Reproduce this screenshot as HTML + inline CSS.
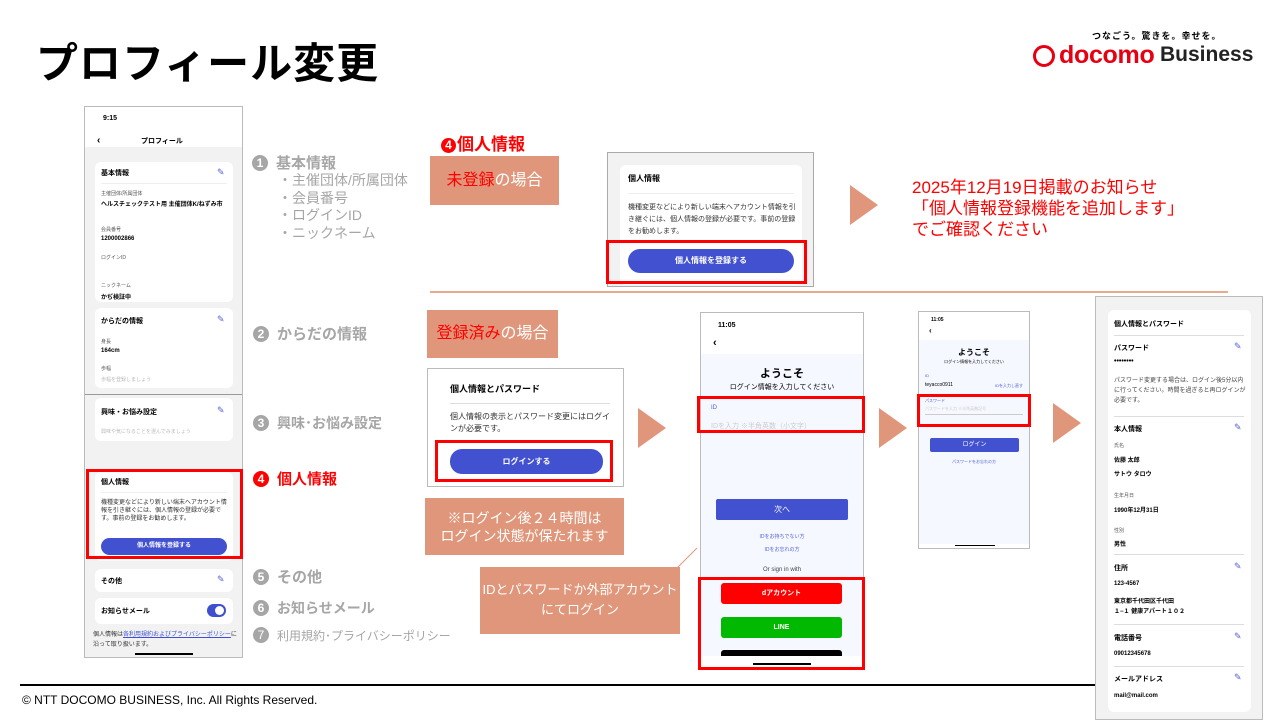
<!DOCTYPE html>
<html><head><meta charset="utf-8"><style>
*{margin:0;padding:0;box-sizing:border-box}
body{width:1280px;height:720px;position:relative;overflow:hidden;background:#fff;font-family:"Liberation Sans","Noto Sans CJK JP",sans-serif;color:#000}
.a{position:absolute}
.or{background:#e0967a;color:#fff;text-align:center}
.red{border:3px solid #f00}
.gl{color:#a6a6a6;font-weight:bold;font-size:15px;white-space:nowrap}
.num{display:inline-block;width:16px;height:16px;border-radius:50%;background:#a6a6a6;color:#fff;font-size:12px;text-align:center;line-height:16px;margin-right:8px;vertical-align:1px}
.card{background:#fff;border-radius:6px}
.t{font-size:7px;font-weight:bold}
.s{font-size:5px;color:#555}
.pen{color:#5560d8;font-size:9px}
.tri{width:0;height:0;border-top:20px solid transparent;border-bottom:20px solid transparent;border-left:28px solid #e0967a}
.btn{background:#4251cf;color:#fff;border-radius:12px;text-align:center;font-weight:bold}
</style></head><body>

<div class="a" style="left:36px;top:30px;font-size:42px;font-weight:bold;letter-spacing:1px">プロフィール変更</div>
<div class="a" style="left:1092px;top:29px;font-size:9px;font-weight:bold;letter-spacing:1px">つなごう。驚きを。幸せを。</div>
<div class="a" style="left:1033px;top:45px;width:22px;height:22px;border:3px solid #e60012;border-radius:50%"></div>
<div class="a" style="left:1059px;top:41px;font-size:25px;font-weight:bold;color:#e60012;letter-spacing:-0.3px">docomo</div>
<div class="a" style="left:1160px;top:43px;font-size:21px;font-weight:bold;color:#222">Business</div>

<div class="a" style="left:20px;top:684px;width:1076px;height:2px;background:#000"></div>
<div class="a" style="left:22px;top:693px;font-size:12px">© NTT DOCOMO BUSINESS, Inc. All Rights Reserved.</div>

<!-- left phone -->
<div class="a" style="left:84px;top:106px;width:159px;height:552px;border:1px solid #bbb;background:#f2f2f2">
 <div class="a" style="left:0;top:0;width:157px;height:40px;background:#fff"></div>
 <div class="a t" style="left:18px;top:8px;font-size:7px">9:15</div>
 <div class="a t" style="left:12px;top:28px;font-size:10px">‹</div>
 <div class="a t" style="left:56px;top:29px">プロフィール</div>
 <div class="a card" style="left:10px;top:55px;width:138px;height:140px">
  <div class="a t" style="left:6px;top:6px">基本情報</div><div class="a pen" style="left:122px;top:5px">✎</div>
  <div class="a" style="left:6px;top:21px;width:126px;height:1px;background:#eee"></div>
  <div class="a s" style="left:6px;top:28px">主催団体/所属団体</div>
  <div class="a t" style="left:6px;top:37px;font-size:6px;width:128px">ヘルスチェックテスト用 主催団体K/ねずみ市</div>
  <div class="a s" style="left:6px;top:64px">会員番号</div>
  <div class="a t" style="left:6px;top:74px;font-size:6px">1200002866</div>
  <div class="a s" style="left:6px;top:92px">ログインID</div>
  <div class="a s" style="left:6px;top:120px">ニックネーム</div>
  <div class="a t" style="left:6px;top:130px;font-size:6px">かぢ検証中</div>
 </div>
 <div class="a card" style="left:10px;top:201px;width:138px;height:80px">
  <div class="a t" style="left:6px;top:8px">からだの情報</div><div class="a pen" style="left:122px;top:6px">✎</div>
  <div class="a s" style="left:6px;top:30px">身長</div>
  <div class="a t" style="left:6px;top:40px;font-size:6px">164cm</div>
  <div class="a s" style="left:6px;top:57px">歩幅</div>
  <div class="a s" style="left:6px;top:68px;color:#bbb">歩幅を登録しましょう</div>
 </div>
 <div class="a" style="left:0;top:287px;width:157px;height:1px;background:#999"></div>
 <div class="a card" style="left:10px;top:291px;width:138px;height:43px">
  <div class="a t" style="left:6px;top:9px">興味・お悩み設定</div><div class="a pen" style="left:122px;top:7px">✎</div>
  <div class="a s" style="left:6px;top:30px;color:#bbb">興味や気になることを選んでみましょう</div>
 </div>
 <div class="a card" style="left:10px;top:365px;width:138px;height:89px">
  <div class="a t" style="left:6px;top:5px">個人情報</div>
  <div class="a" style="left:6px;top:20px;width:126px;height:1px;background:#eee"></div>
  <div class="a s" style="left:6px;top:27px;width:130px;color:#333;line-height:8px;font-size:6px">機種変更などにより新しい端末へアカウント情報を引き継ぐには、個人情報の登録が必要です。事前の登録をお勧めします。</div>
  <div class="a btn" style="left:6px;top:66px;width:126px;height:17px;font-size:6px;line-height:17px">個人情報を登録する</div>
 </div>
 <div class="a card" style="left:10px;top:462px;width:138px;height:23px">
  <div class="a t" style="left:6px;top:7px">その他</div><div class="a pen" style="left:122px;top:5px">✎</div>
 </div>
 <div class="a card" style="left:10px;top:491px;width:138px;height:26px">
  <div class="a t" style="left:6px;top:8px">お知らせメール</div>
  <div class="a" style="left:112px;top:6px;width:19px;height:13px;border-radius:7px;background:#3e50cf"></div>
  <div class="a" style="left:120px;top:8px;width:9px;height:9px;border-radius:50%;background:#fff"></div>
 </div>
 <div class="a s" style="left:8px;top:523px;width:146px;color:#333;font-size:6px;line-height:10px">個人情報は<span style="color:#3e50cf;text-decoration:underline">各利用規約およびプライバシーポリシー</span>に沿って取り扱います。</div>
 <div class="a" style="left:50px;top:546px;width:58px;height:2px;background:#000"></div>
</div>
<div class="a red" style="left:86px;top:469px;width:157px;height:90px"></div>

<!-- left labels -->
<div class="a gl" style="left:252px;top:152px"><span class="num">1</span>基本情報</div>
<div class="a" style="left:278px;top:172px;font-size:14px;color:#a6a6a6;line-height:17.5px">・主催団体/所属団体<br>・会員番号<br>・ログインID<br>・ニックネーム</div>
<div class="a gl" style="left:253px;top:323px"><span class="num">2</span>からだの情報</div>
<div class="a gl" style="left:253px;top:413px;font-size:14px"><span class="num">3</span>興味･お悩み設定</div>
<div class="a gl" style="left:253px;top:468px;color:#f00"><span class="num" style="background:#f00">4</span>個人情報</div>
<div class="a gl" style="left:253px;top:566px"><span class="num">5</span>その他</div>
<div class="a gl" style="left:253px;top:598px;font-size:14px"><span class="num">6</span>お知らせメール</div>
<div class="a gl" style="left:253px;top:627px;font-size:12px;font-weight:normal"><span class="num">7</span>利用規約･プライバシーポリシー</div>

<!-- top middle -->
<div class="a" style="left:441px;top:130px;font-size:17px;font-weight:bold;color:#f00"><span class="num" style="background:#f00;margin-right:1px;width:15px;height:15px;line-height:15px">4</span>個人情報</div>
<div class="a or" style="left:430px;top:156px;width:129px;height:49px;line-height:49px;font-size:16px"><span style="color:#f00">未登録</span>の場合</div>
<div class="a" style="left:607px;top:152px;width:207px;height:135px;border:1px solid #aaa;background:#f2f2f2">
 <div class="a card" style="left:12px;top:12px;width:182px;height:120px">
  <div class="a t" style="left:8px;top:8px;font-size:8px">個人情報</div>
  <div class="a" style="left:8px;top:28px;width:166px;height:1px;background:#eee"></div>
  <div class="a" style="left:8px;top:37px;width:170px;font-size:7px;line-height:12px;color:#333">機種変更などにより新しい端末へアカウント情報を引き継ぐには、個人情報の登録が必要です。事前の登録をお勧めします。</div>
  <div class="a btn" style="left:8px;top:84px;width:166px;height:24px;line-height:24px;font-size:8px">個人情報を登録する</div>
 </div>
</div>
<div class="a red" style="left:606px;top:240px;width:201px;height:44px"></div>
<div class="a tri" style="left:850px;top:185px"></div>
<div class="a" style="left:912px;top:177px;font-size:17px;color:#f00;line-height:21px">2025年12月19日掲載のお知らせ<br>「個人情報登録機能を追加します」<br>でご確認ください</div>
<div class="a" style="left:430px;top:291px;width:798px;height:2px;background:#e8a98c"></div>

<!-- bottom middle -->
<div class="a or" style="left:427px;top:310px;width:131px;height:48px;line-height:48px;font-size:16px"><span style="color:#f00">登録済み</span>の場合</div>
<div class="a" style="left:427px;top:368px;width:197px;height:119px;border:1px solid #bbb;background:#fff">
 <div class="a t" style="left:22px;top:13px;font-size:9px">個人情報とパスワード</div>
 <div class="a" style="left:22px;top:34px;width:160px;height:1px;background:#ddd"></div>
 <div class="a" style="left:22px;top:42px;width:160px;font-size:8px;line-height:12px;color:#333">個人情報の表示とパスワード変更にはログインが必要です。</div>
 <div class="a btn" style="left:22px;top:80px;width:153px;height:25px;line-height:25px;font-size:8px">ログインする</div>
</div>
<div class="a red" style="left:435px;top:440px;width:178px;height:42px"></div>
<div class="a or" style="left:425px;top:498px;width:199px;height:57px;font-size:14px;line-height:18px;padding-top:11px">※ログイン後２４時間は<br>ログイン状態が保たれます</div>
<div class="a or" style="left:480px;top:567px;width:200px;height:67px;font-size:13px;line-height:20px;padding-top:13px;white-space:nowrap">IDとパスワードか外部アカウント<br>にてログイン</div>
<svg class="a" style="left:675px;top:545px" width="25" height="25"><line x1="2" y1="23" x2="22" y2="3" stroke="#e0967a" stroke-width="1"/></svg>
<div class="a tri" style="left:638px;top:408px"></div>

<!-- phone 2 -->
<div class="a" style="left:700px;top:312px;width:164px;height:356px;border:1px solid #bbb;background:#f5f8ff;overflow:hidden">
 <div class="a" style="left:0;top:0;width:164px;height:41px;background:#fff"></div>
 <div class="a t" style="left:17px;top:9px;font-size:7px">11:05</div>
 <div class="a t" style="left:12px;top:24px;font-size:11px">‹</div>
 <div class="a" style="left:0;top:52px;width:162px;text-align:center;font-size:11px;font-weight:bold">ようこそ</div>
 <div class="a" style="left:0;top:69px;width:162px;text-align:center;font-size:7px">ログイン情報を入力してください</div>
 <div class="a" style="left:10px;top:92px;font-size:6px;color:#5560d8">ID</div>
 <div class="a" style="left:10px;top:108px;font-size:7px;color:#ccc">IDを入力 ※半角英数（小文字）</div>
 <div class="a btn" style="left:15px;top:186px;width:132px;height:21px;line-height:21px;font-size:8px;border-radius:2px;font-weight:normal">次へ</div>
 <div class="a" style="left:0;top:218px;width:162px;text-align:center;font-size:5px;color:#5560d8;line-height:13px">IDをお持ちでない方<br>IDをお忘れの方</div>
 <div class="a" style="left:0;top:254px;width:162px;text-align:center;font-size:6px;color:#444">Or sign in with</div>
 <div class="a" style="left:20px;top:270px;width:121px;height:21px;background:#f00;border-radius:3px;color:#fff;font-size:7px;font-weight:bold;text-align:center;line-height:21px">dアカウント</div>
 <div class="a" style="left:20px;top:304px;width:121px;height:21px;background:#00b900;border-radius:3px;color:#fff;font-size:7px;font-weight:bold;text-align:center;line-height:21px">LINE</div>
 <div class="a" style="left:20px;top:337px;width:121px;height:20px;background:#000;border-radius:3px"></div>
 <div class="a" style="left:0;top:343px;width:164px;height:14px;background:#fff"></div>
 <div class="a" style="left:52px;top:350px;width:58px;height:2px;background:#000"></div>
</div>
<div class="a red" style="left:697px;top:396px;width:168px;height:37px"></div>
<div class="a red" style="left:698px;top:577px;width:167px;height:93px"></div>
<div class="a tri" style="left:879px;top:408px"></div>

<!-- phone 3 -->
<div class="a" style="left:918px;top:311px;width:112px;height:238px;border:1px solid #bbb;background:#f5f8ff;overflow:hidden">
 <div class="a" style="left:0;top:0;width:112px;height:28px;background:#fff"></div>
 <div class="a" style="left:12px;top:5px;font-size:5px;font-weight:bold">11:05</div>
 <div class="a" style="left:10px;top:14px;font-size:8px;font-weight:bold">‹</div>
 <div class="a" style="left:0;top:35px;width:110px;text-align:center;font-size:8px;font-weight:bold">ようこそ</div>
 <div class="a" style="left:0;top:47px;width:110px;text-align:center;font-size:4px">ログイン情報を入力してください</div>
 <div class="a" style="left:6px;top:61px;font-size:4px;color:#5560d8">ID</div>
 <div class="a" style="left:6px;top:70px;font-size:5px">teyacco0911</div>
 <div class="a" style="left:76px;top:71px;font-size:4px;color:#5560d8">IDを入力し直す</div>
 <div class="a" style="left:6px;top:86px;font-size:4px;color:#5560d8">パスワード</div>
 <div class="a" style="left:6px;top:94px;font-size:4px;color:#ccc">パスワードを入力 ※半角英数記号</div>
 <div class="a" style="left:6px;top:102px;width:98px;height:1px;background:#ccc"></div>
 <div class="a btn" style="left:11px;top:126px;width:89px;height:14px;line-height:14px;font-size:6px;border-radius:2px;font-weight:normal">ログイン</div>
 <div class="a" style="left:0;top:147px;width:110px;text-align:center;font-size:4px;color:#5560d8">パスワードをお忘れの方</div>
 <div class="a" style="left:0;top:232px;width:112px;height:6px;background:#fff"></div>
 <div class="a" style="left:36px;top:233px;width:40px;height:1px;background:#000"></div>
</div>
<div class="a red" style="left:917px;top:394px;width:114px;height:33px"></div>
<div class="a tri" style="left:1053px;top:403px"></div>

<!-- phone 4 -->
<div class="a" style="left:1095px;top:296px;width:168px;height:424px;border:1px solid #bbb;background:#f2f2f2;overflow:hidden">
 <div class="a card" style="left:12px;top:13px;width:143px;height:402px">
  <div class="a t" style="left:6px;top:9px">個人情報とパスワード</div>
  <div class="a" style="left:6px;top:25px;width:130px;height:1px;background:#ddd"></div>
  <div class="a t" style="left:6px;top:33px">パスワード</div><div class="a pen" style="left:126px;top:31px">✎</div>
  <div class="a t" style="left:6px;top:48px">••••••••</div>
  <div class="a" style="left:6px;top:66px;width:132px;font-size:6px;line-height:10px;color:#444">パスワード変更する場合は、ログイン後5分以内に行ってください。時間を過ぎると再ログインが必要です。</div>
  <div class="a" style="left:6px;top:106px;width:130px;height:1px;background:#ddd"></div>
  <div class="a t" style="left:6px;top:114px">本人情報</div><div class="a pen" style="left:126px;top:112px">✎</div>
  <div class="a s" style="left:6px;top:132px">氏名</div>
  <div class="a t" style="left:6px;top:145px;font-size:6px">佐藤 太郎</div>
  <div class="a t" style="left:6px;top:159px;font-size:6px">サトウ タロウ</div>
  <div class="a s" style="left:6px;top:182px">生年月日</div>
  <div class="a t" style="left:6px;top:195px;font-size:6px">1990年12月31日</div>
  <div class="a s" style="left:6px;top:217px">性別</div>
  <div class="a t" style="left:6px;top:229px;font-size:6px">男性</div>
  <div class="a" style="left:6px;top:244px;width:130px;height:1px;background:#ddd"></div>
  <div class="a t" style="left:6px;top:253px">住所</div><div class="a pen" style="left:126px;top:251px">✎</div>
  <div class="a t" style="left:6px;top:271px;font-size:6px">123-4567</div>
  <div class="a t" style="left:6px;top:287px;font-size:6px;line-height:10px">東京都千代田区千代田<br>１−１ 健康アパート１０２</div>
  <div class="a" style="left:6px;top:314px;width:130px;height:1px;background:#ddd"></div>
  <div class="a t" style="left:6px;top:323px">電話番号</div><div class="a pen" style="left:126px;top:321px">✎</div>
  <div class="a t" style="left:6px;top:341px;font-size:6px">09012345678</div>
  <div class="a" style="left:6px;top:356px;width:130px;height:1px;background:#ddd"></div>
  <div class="a t" style="left:6px;top:364px">メールアドレス</div><div class="a pen" style="left:126px;top:362px">✎</div>
  <div class="a t" style="left:6px;top:383px;font-size:6px">mail@mail.com</div>
 </div>
</div>
</body></html>
